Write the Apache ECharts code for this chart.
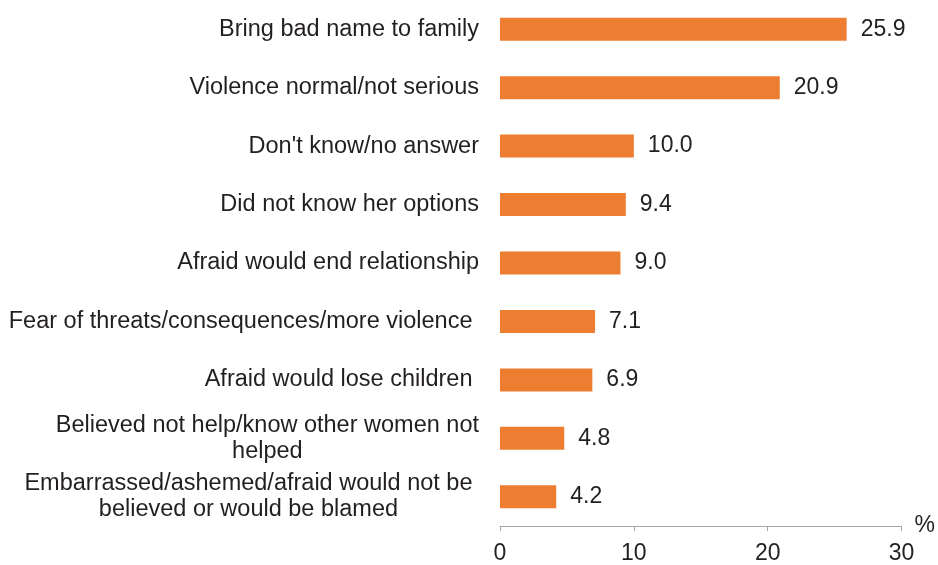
<!DOCTYPE html>
<html>
<head>
<meta charset="utf-8">
<script src="https://cdn.jsdelivr.net/npm/echarts@6/dist/echarts.min.js"></script>
<style>html,body{margin:0;padding:0;background:#fff}#c{width:938px;height:565px}</style>
</head>
<body>
<div id="c"></div>
<script>
var categories = [
  "Bring bad name to family",
  "Violence normal/not serious",
  "Don't know/no answer",
  "Did not know her options",
  "Afraid would end relationship",
  "Fear of threats/consequences/more violence ",
  "Afraid would lose children ",
  "Believed not help/know other women not\nhelped",
  "Embarrassed/ashemed/afraid would not be \nbelieved or would be blamed "
];
var values = [25.9, 20.9, 10.0, 9.4, 9.0, 7.1, 6.9, 4.8, 4.2];
var xTicks = [0, 10, 20, 30];

var textColor = '#231f20';
var font = '"Liberation Sans", Arial, Helvetica, sans-serif';
var chart = echarts.init(document.getElementById('c'), null, {renderer: 'canvas'});
chart.setOption({
  animation: false,
  backgroundColor: '#ffffff',
  grid: {left: 500, right: 33, top: -2, bottom: 37, containLabel: false},
  xAxis: {
    type: 'value',
    min: xTicks[0],
    max: xTicks[xTicks.length - 1],
    interval: xTicks[1] - xTicks[0],
    name: '%',
    nameLocation: 'end',
    nameGap: 13,
    nameTextStyle: {color: textColor, fontSize: 23, fontFamily: font, verticalAlign: 'middle', padding: [0, 0, 4, 0]},
    axisLine: {show: true, lineStyle: {color: '#a6a6a6', width: 1}},
    axisTick: {show: true, inside: false, length: 5, lineStyle: {color: '#a6a6a6'}},
    splitLine: {show: false},
    axisLabel: {color: textColor, fontSize: 23, fontFamily: font, margin: 16}
  },
  yAxis: {
    type: 'category',
    data: categories,
    inverse: true,
    axisLine: {show: false},
    axisTick: {show: false},
    axisLabel: {
      color: textColor, fontSize: 23.5, fontFamily: font, margin: 21, lineHeight: 26,
      formatter: function (v) {
        return v.split('\n').map(function (s) { return '{c|' + s + '}'; }).join('\n');
      },
      rich: {c: {align: 'center', color: textColor, fontSize: 23.5, fontFamily: font, lineHeight: 26}}
    }
  },
  series: [{
    type: 'bar',
    data: values,
    barWidth: 23,
    itemStyle: {color: '#ed7d31'},
    label: {
      show: true, position: 'right', distance: 14,
      color: textColor, fontSize: 23, fontFamily: font,
      formatter: function (p) { return p.value.toFixed(1); }
    }
  }]
});
</script>
</body>
</html>
